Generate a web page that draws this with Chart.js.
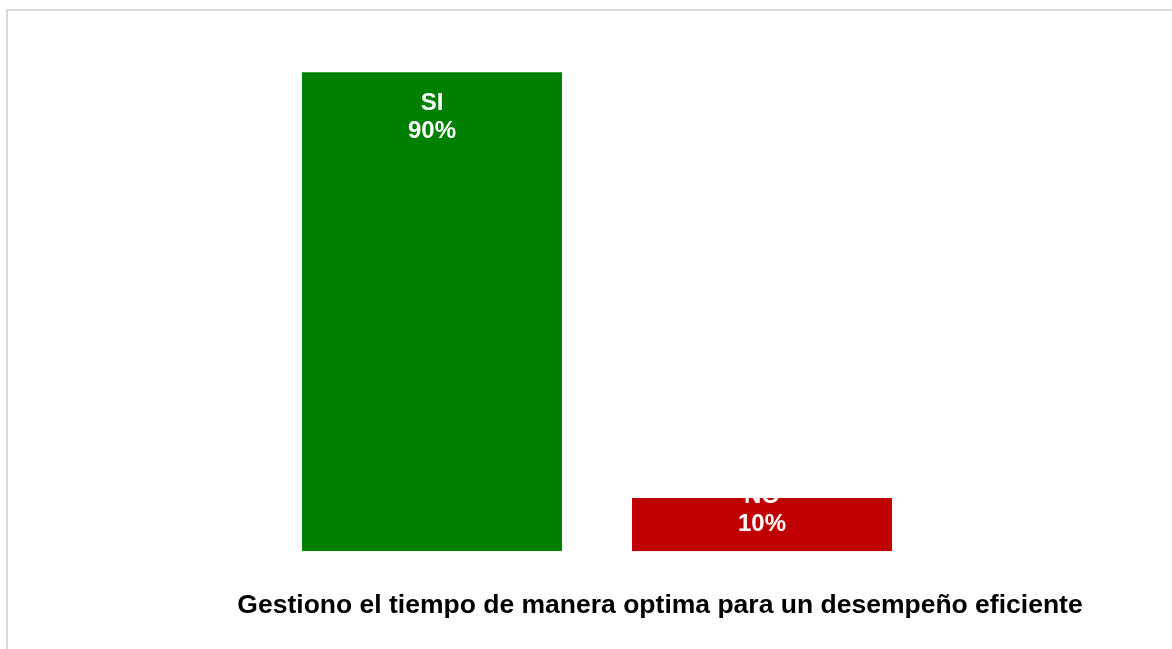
<!DOCTYPE html>
<html>
<head>
<meta charset="utf-8">
<script src="https://cdn.jsdelivr.net/npm/chart.js@4/dist/chart.umd.min.js"></script>
<style>
    html, body { margin: 0; padding: 0; background: #fff; overflow: hidden; }
    #frame { position: absolute; left: 6px; top: 9px; width: 1300px; height: 800px; border: 2px solid #d9d9d9; }
    #wrap { position: absolute; left: 0; top: 0; width: 1172px; height: 649px; }
</style>
</head>
<body>
<div id="frame"></div>
<div id="wrap"><canvas id="surveyChart"></canvas></div>
<script>
const categories = ['SI', 'NO'];
const percentages = [90, 10];
const barColors = ['#008000', '#C00000'];
const chartTitle = 'Gestiono el tiempo de manera optima para un desempeño eficiente';

const fontFamily = '"Liberation Sans", Arial, sans-serif';

// labels sit near the top of each bar, clipped to the bar itself
const barLabels = {
    id: 'barLabels',
    afterDatasetsDraw(chart) {
        const ctx = chart.ctx;
        const meta = chart.getDatasetMeta(0);
        meta.data.forEach((bar, i) => {
            const left = bar.x - bar.width / 2;
            const top = bar.y;
            const bottom = bar.base;
            const lineH = 28;
            let firstY = top + 31;
            if (firstY + lineH + 27 > bottom) {
                firstY = bottom - 27 - lineH;
            }
            ctx.save();
            ctx.beginPath();
            ctx.rect(left, top, bar.width, bottom - top);
            ctx.clip();
            ctx.fillStyle = '#ffffff';
            ctx.font = 'bold 24px ' + fontFamily;
            ctx.textAlign = 'center';
            ctx.textBaseline = 'middle';
            ctx.fillText(categories[i], bar.x, firstY);
            ctx.fillText(percentages[i] + '%', bar.x, firstY + lineH);
            ctx.restore();
        });
    }
};

// invisible axes only used to reserve room on each side of the plot
const spacer = (w, pos) => ({
    position: pos,
    display: true,
    ticks: { display: false },
    grid: { display: false },
    border: { display: false },
    afterFit(scale) { scale.width = w; }
});

new Chart(document.getElementById('surveyChart'), {
    type: 'bar',
    data: {
        labels: categories,
        datasets: [{
            data: percentages,
            backgroundColor: barColors,
            borderWidth: 0,
            barPercentage: 0.788,
            categoryPercentage: 1
        }]
    },
    options: {
        responsive: true,
        maintainAspectRatio: false,
        animation: false,
        layout: { padding: { left: 148, right: 0, top: 19, bottom: 27 } },
        plugins: {
            legend: { display: false },
            tooltip: { enabled: false },
            title: {
                display: true,
                text: chartTitle,
                position: 'bottom',
                color: '#000000',
                font: { family: fontFamily, size: 26.5, weight: 'bold' },
                padding: { top: 39, bottom: 0 }
            }
        },
        scales: {
            x: { display: false },
            y: Object.assign(spacer(119, 'left'), { min: 0, max: 100 }),
            y2: spacer(245, 'right')
        }
    },
    plugins: [barLabels]
});
</script>
</body>
</html>
